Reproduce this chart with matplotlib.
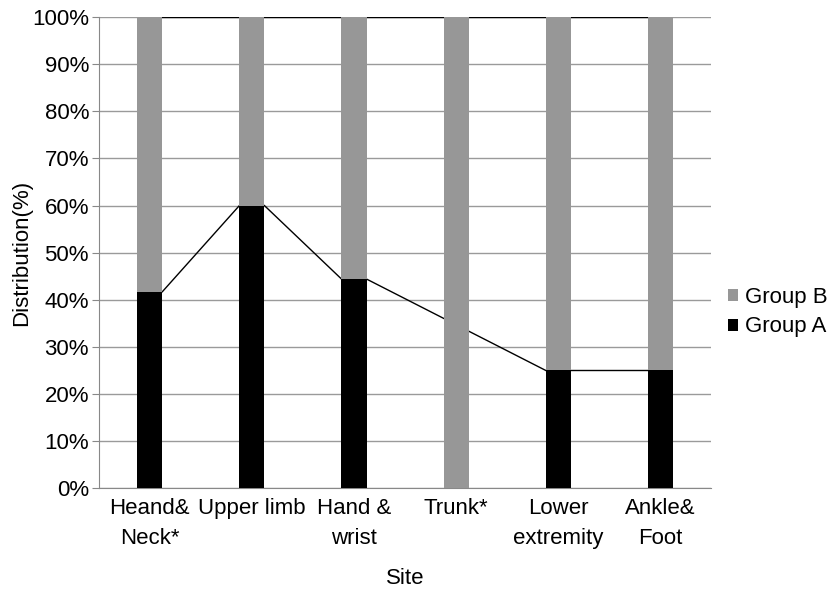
import numpy as np
import matplotlib
matplotlib.use("Agg")
import matplotlib.pyplot as plt

sites = ["Heand&\nNeck*", "Upper limb", "Hand &\nwrist", "Trunk*", "Lower\nextremity", "Ankle&\nFoot"]
group_a = [41.7, 60.0, 44.4, np.nan, 25.0, 25.0]   # trunk has no Group A
group_b = [58.3, 40.0, 55.6, 100.0, 75.0, 75.0]
yticks = [0, 10, 20, 30, 40, 50, 60, 70, 80, 90, 100]

plt.rcParams['font.family'] = ['Liberation Sans', 'DejaVu Sans']
plt.rcParams['font.size'] = 16

fig = plt.figure(figsize=(8.3, 5.91), dpi=100)
ax = fig.add_axes([0.119, 0.174, 0.738, 0.797])

x = np.arange(len(sites))
w = 0.245
a = np.nan_to_num(np.array(group_a))
b = np.array(group_b)

ax.bar(x, a, w, color="black", label="Group A", zorder=3)
ax.bar(x, b, w, bottom=a, color="#979797", label="Group B", zorder=3)

# series lines between bar edges (skip missing values)
def series_line(vals):
    idx = [i for i, v in enumerate(vals) if not np.isnan(v)]
    for i, j in zip(idx[:-1], idx[1:]):
        ax.plot([x[i] + w / 2, x[j] - w / 2], [vals[i], vals[j]],
                color="black", lw=1, zorder=2)

series_line(group_a)
series_line(list(a + b))

ax.set_xlim(-0.5, len(sites) - 0.5)
ax.set_ylim(0, 100)
ax.set_yticks(yticks)
ax.set_yticklabels([f"{t}%" for t in yticks])
ax.set_xticks(x)
ax.set_xticklabels(sites, linespacing=1.55)
ax.tick_params(axis="x", length=0, pad=7)
ax.tick_params(axis="y", length=5, color="#888888", pad=2)
ax.grid(axis="y", color="#9a9a9a", lw=1, zorder=0)
ax.set_axisbelow(True)
for s in ["top", "right"]:
    ax.spines[s].set_visible(False)
for s in ["left", "bottom"]:
    ax.spines[s].set_color("#888888")

ax.set_xlabel("Site", labelpad=14)
ax.set_ylabel("Distribution(%)", labelpad=0)

h, l = ax.get_legend_handles_labels()
fig.legend(h[::-1], l[::-1], loc="center left",
           bbox_to_anchor=(728 / 830, 1 - 312 / 591),
           frameon=False, handlelength=0.45, handleheight=0.45, handletextpad=0.3,
           labelspacing=0.4, borderaxespad=0, borderpad=0)

fig.savefig("out.png", dpi=100)
